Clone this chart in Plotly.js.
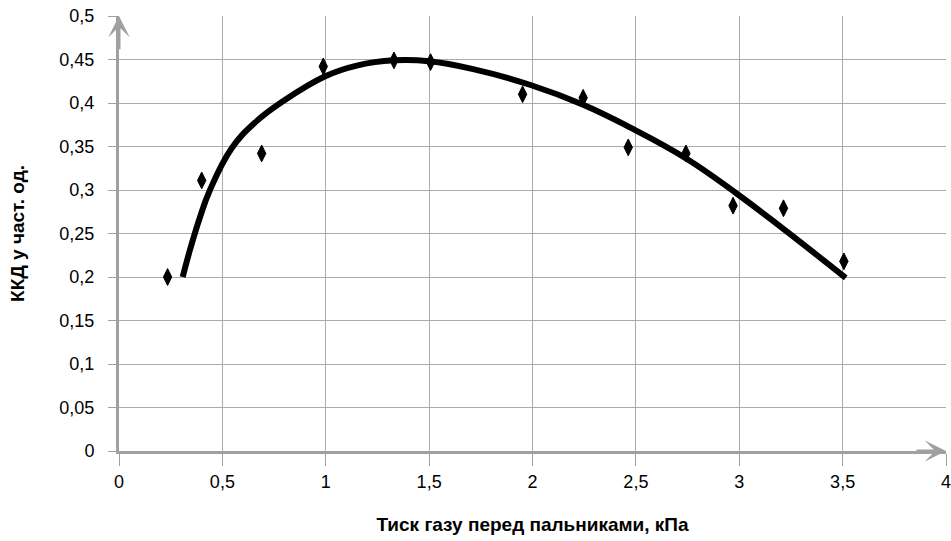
<!DOCTYPE html>
<html>
<head>
<meta charset="utf-8">
<script src="https://cdn.plot.ly/plotly-3.0.1.min.js"></script>
<style>
  html, body { margin: 0; padding: 0; background: #ffffff; }
  #chart { width: 951px; height: 541px; }
</style>
</head>
<body>
<div id="chart"></div>
<script>
// Measured points: gas pressure before burners (kPa) vs efficiency (fraction)
const pressureKPa = [0.235, 0.400, 0.690, 0.988, 1.330, 1.507, 1.952, 2.245, 2.463, 2.742, 2.970, 3.214, 3.506];
const efficiency  = [0.200, 0.311, 0.342, 0.442, 0.449, 0.447, 0.410, 0.406, 0.349, 0.342, 0.282, 0.279, 0.218];

// Trend curve
const trendX = [0.308, 0.343, 0.392, 0.440, 0.545, 0.660, 0.793, 1.000, 1.150, 1.330, 1.500, 1.713, 1.987, 2.245, 2.471, 2.745, 2.987, 3.204, 3.515];
const trendY = [0.200, 0.231, 0.269, 0.300, 0.348, 0.378, 0.402, 0.431, 0.443, 0.449, 0.448, 0.439, 0.421, 0.398, 0.372, 0.336, 0.296, 0.257, 0.199];

const xTickVals = [0, 0.5, 1, 1.5, 2, 2.5, 3, 3.5, 4];
const xTickText = ['0', '0,5', '1', '1,5', '2', '2,5', '3', '3,5', '4'];
const yTickVals = [0, 0.05, 0.1, 0.15, 0.2, 0.25, 0.3, 0.35, 0.4, 0.45, 0.5];
const yTickText = ['0', '0,05', '0,1', '0,15', '0,2', '0,25', '0,3', '0,35', '0,4', '0,45', '0,5'];

const xTitle = 'Тиск газу перед пальниками, кПа';
const yTitle = 'ККД у част. од.';

const axisGray = '#a0a0a0';
const gridGray = '#ababab';
const fontFamily = 'Liberation Sans, Arial, sans-serif';

const traces = [
  {
    x: trendX, y: trendY,
    type: 'scatter', mode: 'lines',
    line: { color: '#000000', width: 6, shape: 'spline', smoothing: 1.2 },
    hoverinfo: 'skip', showlegend: false
  },
  {
    x: pressureKPa, y: efficiency,
    type: 'scatter', mode: 'markers',
    marker: { symbol: 'diamond-tall', size: 12, color: '#000000', line: { color: '#000000', width: 1 } },
    showlegend: false
  }
];

const layout = {
  width: 951, height: 541,
  margin: { l: 119, r: 5, t: 16, b: 90 },
  paper_bgcolor: '#ffffff', plot_bgcolor: '#ffffff',
  font: { family: fontFamily, size: 18, color: '#000000' },
  showlegend: false,
  xaxis: {
    range: [0, 4], tickvals: xTickVals, ticktext: xTickText,
    showgrid: true, gridcolor: gridGray, gridwidth: 1,
    showline: true, linecolor: axisGray, linewidth: 3,
    ticks: 'outside', ticklen: 12, tickwidth: 1, tickcolor: axisGray,
    ticklabelstandoff: 0, ticklabeloverflow: 'allow',
    zeroline: false,
    tickfont: { size: 18 },
    title: { text: xTitle, font: { family: fontFamily, size: 19, weight: 'bold' }, standoff: 28 }
  },
  yaxis: {
    range: [0, 0.5], tickvals: yTickVals, ticktext: yTickText,
    showgrid: true, gridcolor: gridGray, gridwidth: 1,
    showline: true, linecolor: axisGray, linewidth: 3,
    ticks: 'outside', ticklen: 8, tickwidth: 1, tickcolor: axisGray,
    ticklabelstandoff: 10, ticklabeloverflow: 'allow',
    zeroline: false,
    tickfont: { size: 18 },
    title: { text: yTitle, font: { family: fontFamily, size: 19, weight: 'bold' }, standoff: 30 }
  },
  annotations: [
    { x: 4, y: 0, ax: 3.85, ay: 0, xref: 'x', yref: 'y', axref: 'x', ayref: 'y',
      text: '', showarrow: true, arrowhead: 3, arrowsize: 1.2, arrowwidth: 3, arrowcolor: axisGray, standoff: 0 },
    { x: 0, y: 0.5, ax: 0, ay: 0.46, xref: 'x', yref: 'y', axref: 'x', ayref: 'y',
      text: '', showarrow: true, arrowhead: 3, arrowsize: 1.2, arrowwidth: 3, arrowcolor: axisGray, standoff: 0 }
  ]
};

Plotly.newPlot('chart', traces, layout, { displayModeBar: false, staticPlot: true });
</script>
</body>
</html>
